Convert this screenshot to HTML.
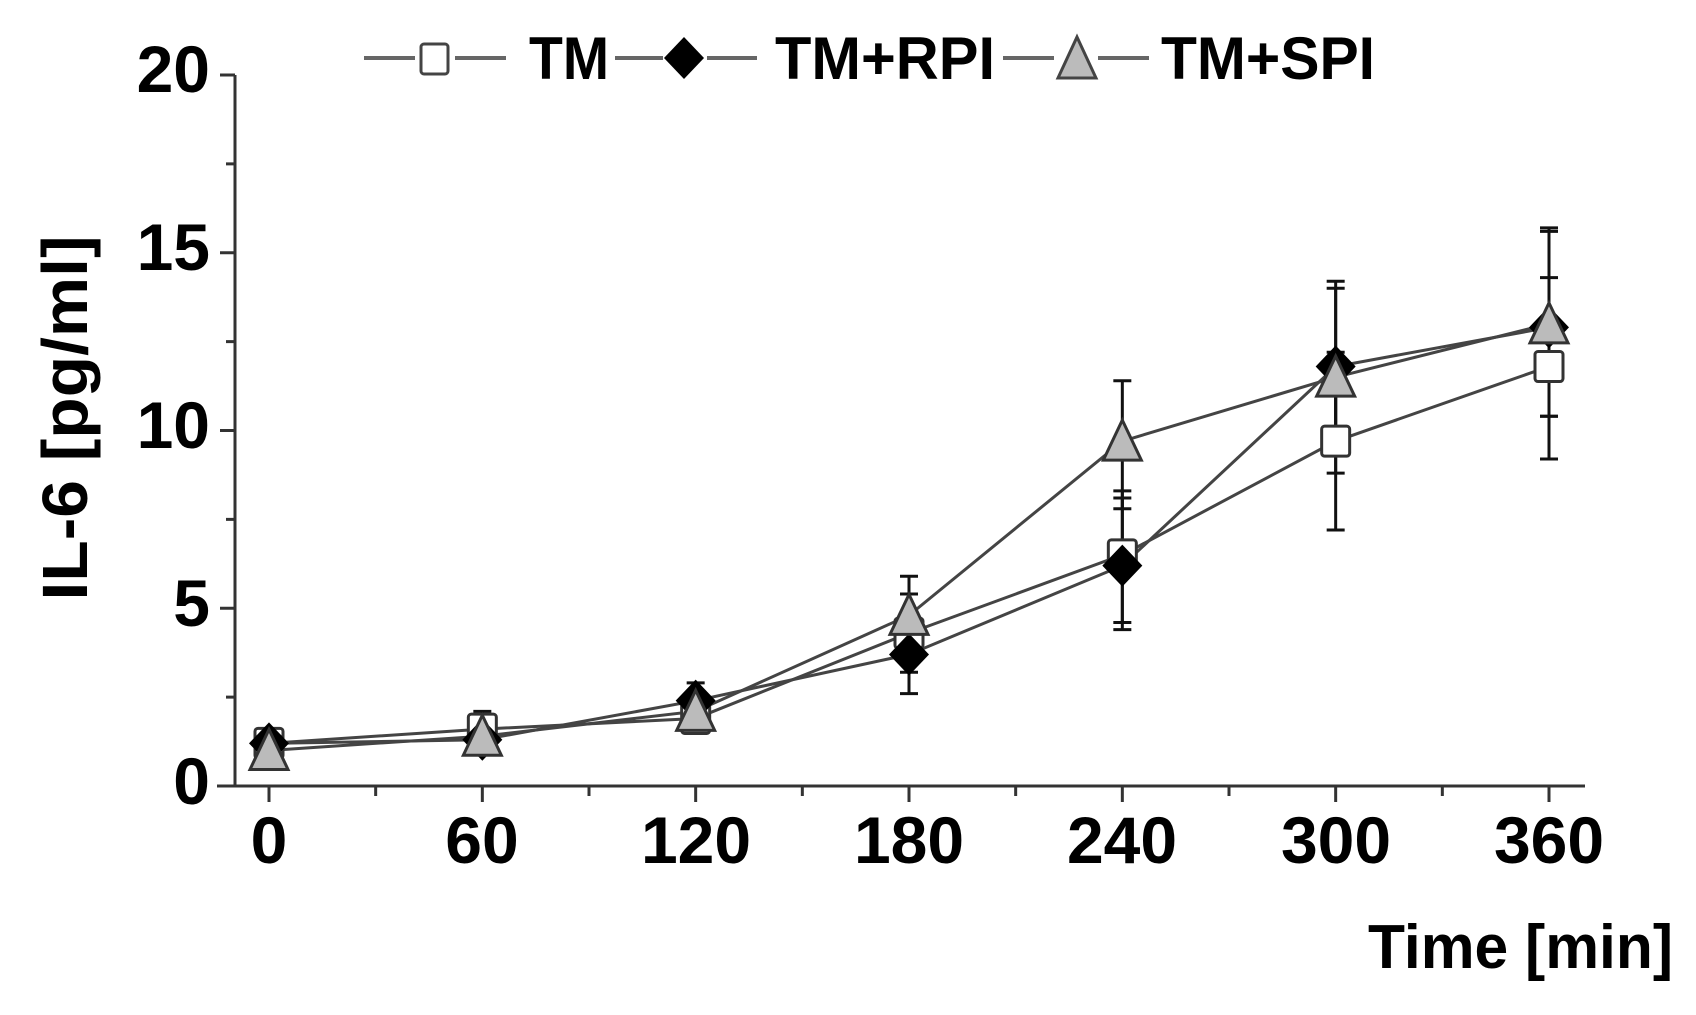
<!DOCTYPE html>
<html><head><meta charset="utf-8"><style>
html,body{margin:0;padding:0;background:#fff;}
svg{display:block;}
text{font-family:"Liberation Sans",Arial,sans-serif;font-weight:bold;fill:#000;}
</style></head><body>
<svg id="c" width="1696" height="1015" viewBox="0 0 1696 1015" xmlns="http://www.w3.org/2000/svg">
<g id="axes" stroke="#333" stroke-width="3" fill="none">
<line x1="235" y1="75" x2="235" y2="787"/>
<line x1="217" y1="786" x2="1585" y2="786"/>
</g>
<g id="plot"></g>
<g font-size="66">
<text x="210" y="92" text-anchor="end">20</text>
<text x="210" y="270" text-anchor="end">15</text>
<text x="210" y="448" text-anchor="end">10</text>
<text x="210" y="626" text-anchor="end">5</text>
<text x="210" y="804" text-anchor="end">0</text>
<text x="269" y="863" text-anchor="middle">0</text>
<text x="482" y="863" text-anchor="middle">60</text>
<text x="696" y="863" text-anchor="middle">120</text>
<text x="909" y="863" text-anchor="middle">180</text>
<text x="1122" y="863" text-anchor="middle">240</text>
<text x="1336" y="863" text-anchor="middle">300</text>
<text x="1549" y="863" text-anchor="middle">360</text>
</g>
<text x="87" y="418" font-size="64" text-anchor="middle" transform="rotate(-90 87 418)" textLength="365" lengthAdjust="spacingAndGlyphs">IL-6 [pg/ml]</text>
<text x="1368" y="968" font-size="62" textLength="305" lengthAdjust="spacingAndGlyphs">Time [min]</text>
<g stroke="#666" stroke-width="4">
<line x1="364" y1="58" x2="415" y2="58"/><line x1="455" y1="58" x2="506" y2="58"/>
<line x1="615" y1="58" x2="663" y2="58"/><line x1="707" y1="58" x2="757" y2="58"/>
<line x1="1003" y1="58" x2="1054" y2="58"/><line x1="1098" y1="58" x2="1149" y2="58"/>
</g>
<rect x="421" y="44" width="27" height="30" rx="3" fill="#fff" stroke="#444" stroke-width="3"/>
<polygon points="684,37 704,58 684,79 664,58" fill="#000"/>
<polygon points="1077,37 1096,78 1058,78" fill="#bbb" stroke="#444" stroke-width="3"/>
<g font-size="60">
<text x="529" y="79" textLength="80" lengthAdjust="spacingAndGlyphs">TM</text>
<text x="775" y="79" textLength="220" lengthAdjust="spacingAndGlyphs">TM+RPI</text>
<text x="1161" y="79" textLength="214" lengthAdjust="spacingAndGlyphs">TM+SPI</text>
</g>
</svg>
<script>
var NS="http://www.w3.org/2000/svg";
function el(p,t,a){var e=document.createElementNS(NS,t);for(var k in a)e.setAttribute(k,a[k]);p.appendChild(e);return e;}
var ax=document.getElementById('axes'),pl=document.getElementById('plot');
function X(t){return 269+t*(1280/360);}
function Y(v){return 786-v*35.55;}
for(var v=0;v<=20;v+=2.5){var y=Y(v);el(ax,'line',{x1:(v%5==0?220:226),y1:y,x2:235,y2:y});}
for(var t=0;t<=360;t+=30){var x=X(t);el(ax,'line',{x1:x,y1:786,x2:x,y2:(t%60==0?802:796)});}
var T=[0,60,120,180,240,300,360];
var tm={v:[1.2,1.6,1.9,4.3,6.5,9.7,11.8],lo:[0.9,1.2,1.5,3.2,4.6,7.2,9.2],hi:[1.5,2.0,2.3,5.4,8.3,12.2,14.3]};
var rp={v:[1.2,1.3,2.4,3.7,6.2,11.8,12.9],lo:[0.8,0.9,1.9,2.6,4.4,9.6,10.4],hi:[1.6,1.7,2.9,4.8,8.1,14.0,15.6]};
var sp={v:[1.0,1.4,2.1,4.8,9.7,11.5,13.0],lo:[0.6,1.0,1.7,3.5,7.8,8.8,10.4],hi:[1.6,2.1,2.6,5.9,11.4,14.2,15.7]};
var S=[tm,rp,sp];
S.forEach(function(s){var pts=T.map(function(t,i){return X(t)+','+Y(s.v[i]);}).join(' ');
 el(pl,'polyline',{points:pts,fill:'none',stroke:'#444','stroke-width':3});});
S.forEach(function(s){T.forEach(function(t,i){var x=X(t);
 el(pl,'line',{x1:x,y1:Y(s.lo[i]),x2:x,y2:Y(s.hi[i]),stroke:'#111','stroke-width':3});
 el(pl,'line',{x1:x-9,y1:Y(s.lo[i]),x2:x+9,y2:Y(s.lo[i]),stroke:'#111','stroke-width':3});
 el(pl,'line',{x1:x-9,y1:Y(s.hi[i]),x2:x+9,y2:Y(s.hi[i]),stroke:'#111','stroke-width':3});});});
T.forEach(function(t,i){var x=X(t),y=Y(tm.v[i]);
 el(pl,'rect',{x:x-14,y:y-15,width:28,height:30,rx:3,fill:'#fff',stroke:'#333','stroke-width':3});});
T.forEach(function(t,i){var x=X(t),y=Y(rp.v[i]);
 el(pl,'polygon',{points:(x)+','+(y-21)+' '+(x+20)+','+y+' '+x+','+(y+21)+' '+(x-20)+','+y,fill:'#000'});});
T.forEach(function(t,i){var x=X(t),y=Y(sp.v[i]);
 el(pl,'polygon',{points:x+','+(y-21)+' '+(x+19)+','+(y+19)+' '+(x-19)+','+(y+19),fill:'#bbb',stroke:'#333','stroke-width':3});});
</script>
</body></html>
